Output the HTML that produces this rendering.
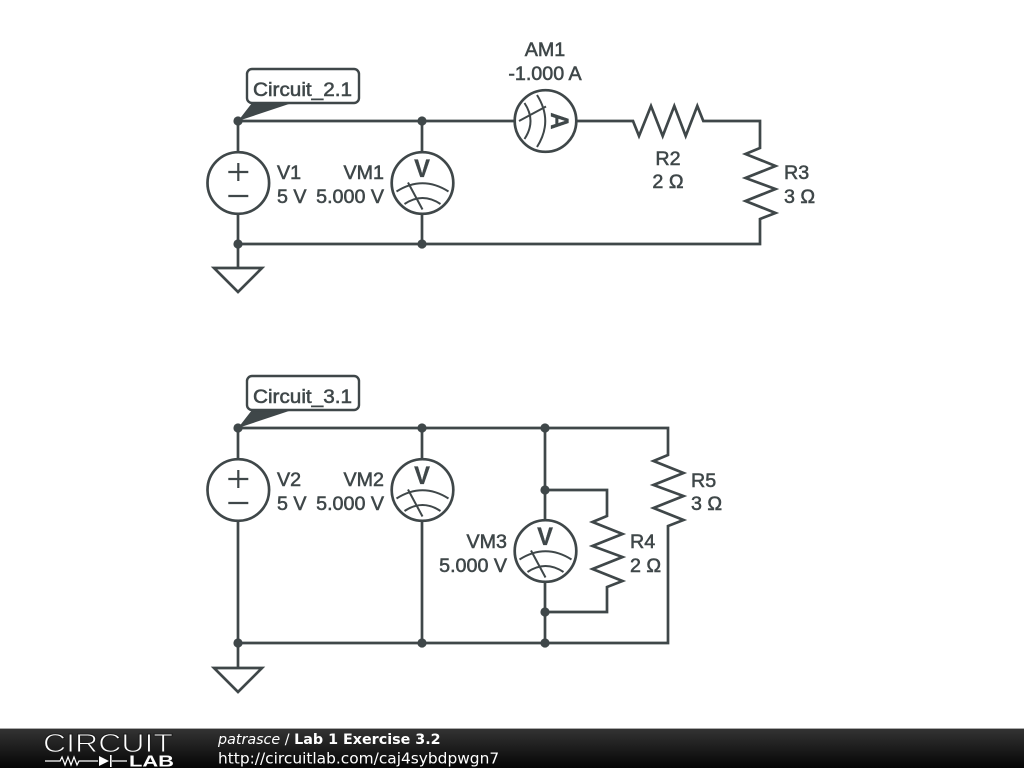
<!DOCTYPE html>
<html><head><meta charset="utf-8"><style>
html,body{margin:0;padding:0;background:#fff}
svg{display:block}
.w{fill:none;stroke:#3f4749;stroke-width:2.7;stroke-linejoin:miter}
.t{font-family:"Liberation Sans",sans-serif;font-size:19.7px;fill:#3f4749;stroke:#3f4749;stroke-width:.55}
.e{text-anchor:end}.m{text-anchor:middle}
.d{fill:#3f4749}
.v{font-weight:bold;font-size:25px;stroke-width:.3}
.f{font-family:"DejaVu Sans",sans-serif;fill:#fff}
</style></head><body>
<svg width="1024" height="768" viewBox="0 0 1024 768" xmlns="http://www.w3.org/2000/svg">
<defs>
<linearGradient id="g" x1="0" y1="0" x2="0" y2="1"><stop offset="0" stop-color="#333"/><stop offset="1" stop-color="#050505"/></linearGradient>
<g id="meter">
<circle cx="0" cy="0" r="30.8" fill="#fff" stroke="#3f4749" stroke-width="2.7"/>
<path d="M-26 8.5Q0 -8 26 8.5M-18 21Q0 9 18 21M-14.5 -.5L0 26.5" fill="none" stroke="#3f4749" stroke-width="2"/>
</g>
<g id="src">
<circle cx="0" cy="0" r="30.8" fill="#fff" stroke="#3f4749" stroke-width="2.7"/>
<path d="M-10 -11H10M0 -20V-2M-10 13H10" fill="none" stroke="#3f4749" stroke-width="2.2"/>
</g>
</defs>

<!-- Circuit 1 wires -->
<path class="w" d="M238 121H514M576 121H633L639 136L651 106L662.7 136L674.3 106L685.7 136L697.3 106L703.3 121H760V148L745.5 154L775.5 166L745.5 178L775.5 189L745.5 201L775.5 213L760 219V244H238M238 121V268M422 121V244"/>
<path class="w" d="M214 268H262L238 292Z"/>
<use href="#src" x="238.3" y="183"/>
<use href="#meter" x="422.5" y="183"/>
<use href="#meter" transform="translate(545.5 121) rotate(90)"/>
<text class="t m v" transform="translate(422 177) scale(.95 1)">V</text>
<text class="t m v" transform="translate(551 121) rotate(90) scale(.95 1)">A</text>
<circle class="d" cx="238" cy="121" r="4.6"/><circle class="d" cx="422" cy="121" r="4.6"/>
<circle class="d" cx="238" cy="244" r="4.6"/><circle class="d" cx="422" cy="244" r="4.6"/>
<path class="d" d="M238 121L252 103H292Z"/>
<rect x="247" y="69" width="112" height="34" rx="5" fill="#fff" stroke="#3f4749" stroke-width="2.4"/>
<text class="t" x="253" y="96" textLength="99" lengthAdjust="spacingAndGlyphs">Circuit_2.1</text>
<text class="t" x="277" y="179">V1</text><text class="t" x="277" y="203">5 V</text>
<text class="t e" x="384" y="179">VM1</text><text class="t e" x="384" y="203">5.000 V</text>
<text class="t m" x="545" y="56">AM1</text><text class="t m" x="545" y="80">-1.000 A</text>
<text class="t m" x="668" y="165">R2</text><text class="t m" x="668" y="188">2 Ω</text>
<text class="t" x="784" y="179">R3</text><text class="t" x="784" y="203">3 Ω</text>

<!-- Circuit 2 wires -->
<path class="w" d="M238 428H668V455L653.5 461L683.5 473L653.5 485L683.5 496L653.5 508L683.5 520L668 526V643H238M238 428V668M422 428V643M545 428V643M545 490H607V516L592.5 522L622.5 534L592.5 546L622.5 557L592.5 569L622.5 581L607 587V612H545"/>
<path class="w" d="M214 668H262L238 692Z"/>
<use href="#src" x="238.3" y="490"/>
<use href="#meter" x="422.5" y="490"/>
<use href="#meter" x="545.5" y="551"/>
<text class="t m v" transform="translate(422 484) scale(.95 1)">V</text>
<text class="t m v" transform="translate(545 545) scale(.95 1)">V</text>
<circle class="d" cx="238" cy="428" r="4.6"/><circle class="d" cx="422" cy="428" r="4.6"/><circle class="d" cx="545" cy="428" r="4.6"/>
<circle class="d" cx="545" cy="490" r="4.6"/><circle class="d" cx="545" cy="612" r="4.6"/>
<circle class="d" cx="238" cy="643" r="4.6"/><circle class="d" cx="422" cy="643" r="4.6"/><circle class="d" cx="545" cy="643" r="4.6"/>
<path class="d" d="M238 428L252 410H292Z"/>
<rect x="247" y="376" width="112" height="34" rx="5" fill="#fff" stroke="#3f4749" stroke-width="2.4"/>
<text class="t" x="253" y="403" textLength="99" lengthAdjust="spacingAndGlyphs">Circuit_3.1</text>
<text class="t" x="277" y="486">V2</text><text class="t" x="277" y="510">5 V</text>
<text class="t e" x="384" y="486">VM2</text><text class="t e" x="384" y="510">5.000 V</text>
<text class="t e" x="507" y="548">VM3</text><text class="t e" x="507" y="572">5.000 V</text>
<text class="t" x="630" y="548">R4</text><text class="t" x="630" y="572">2 Ω</text>
<text class="t" x="691" y="487">R5</text><text class="t" x="691" y="510">3 Ω</text>

<!-- Footer -->
<rect x="0" y="729" width="1024" height="39" fill="url(#g)"/>
<rect x="0" y="728" width="1024" height="1" fill="#aaa"/>
<text x="43" y="752" font-family="Liberation Sans,sans-serif" font-size="25.5" fill="#fff" stroke="#1c1c1c" stroke-width=".9" textLength="130" lengthAdjust="spacingAndGlyphs">CIRCUIT</text>
<path d="M45 761H60L62 757L65 765L68 757L71 765L74 757L77 765L79 761H98M112 761H127" fill="none" stroke="#fff" stroke-width="1.2"/>
<path d="M99 756L109 761L99 766Z" fill="#fff"/><rect x="110" y="755" width="1.6" height="12" fill="#fff"/>
<text x="129" y="766.5" font-family="Liberation Sans,sans-serif" font-size="16" font-weight="bold" fill="#fff" textLength="45" lengthAdjust="spacingAndGlyphs">LAB</text>
<text class="f" x="218" y="744" font-size="14.3"><tspan font-style="italic">patrasce</tspan> / <tspan font-weight="bold">Lab 1 Exercise 3.2</tspan></text>
<text class="f" x="218" y="763.5" font-size="15.4">http://circuitlab.com/caj4sybdpwgn7</text>
</svg>
</body></html>
